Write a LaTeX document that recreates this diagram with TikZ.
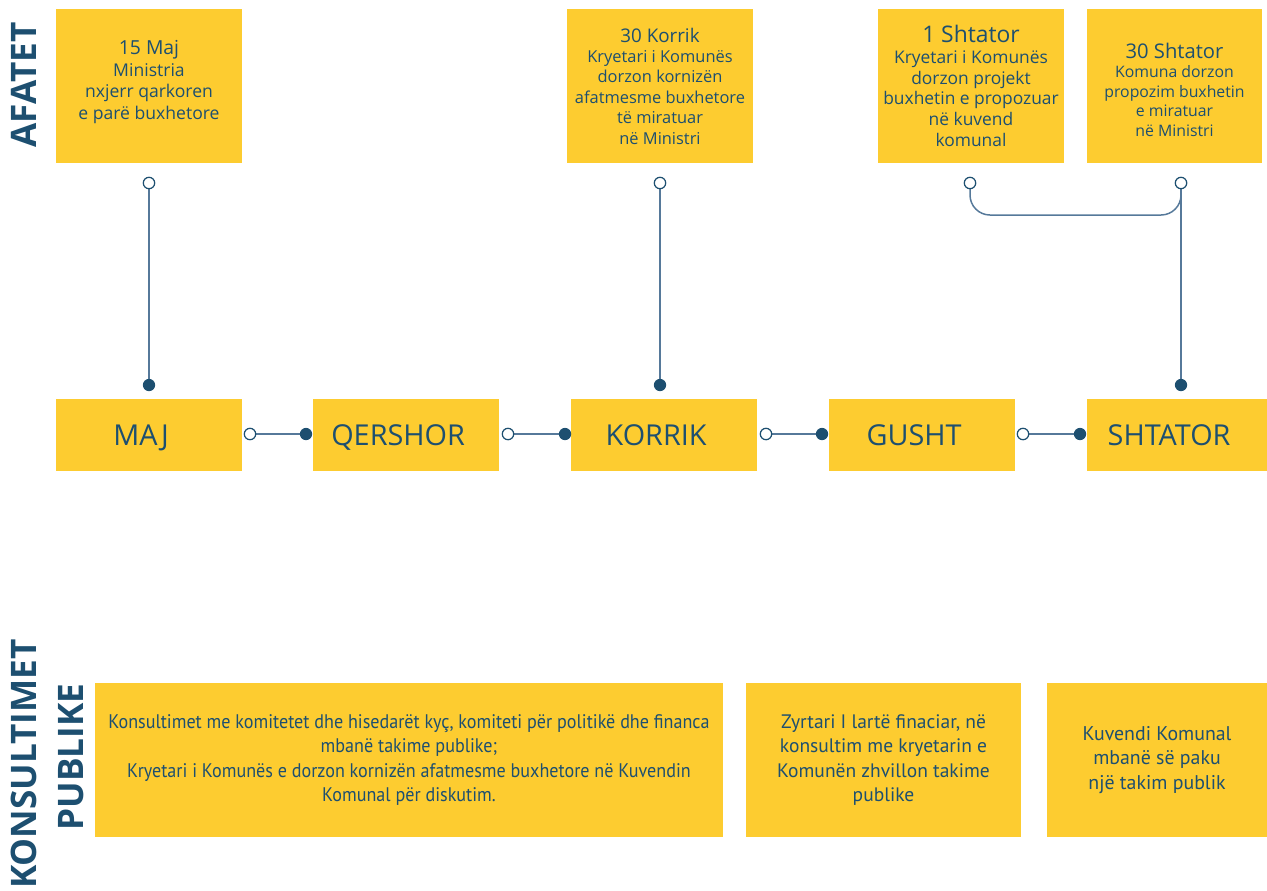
\documentclass[tikz,border=0pt]{standalone}
\usepackage{fontspec}
\setmainfont{Open Sans}
\newfontfamily\myriad{PT Sans}
\newfontfamily\myriadcond[FakeStretch=0.92]{PT Sans}
\definecolor{boxyellow}{HTML}{FDCC30}
\definecolor{inkblue}{HTML}{1D4F70}
\definecolor{linkblue}{HTML}{56799A}
\tikzset{
  box/.style={fill=boxyellow, text=inkblue, inner sep=0pt},
  monthbox/.style={box, minimum width=3.72cm, minimum height=1.44cm, text height=11.7pt, text depth=0pt,
    font=\fontsize{16.4}{20}\selectfont},
  datebox/.style={box, align=center, minimum height=3.08cm},
  publicbox/.style={box, align=center, minimum height=3.08cm},
  link/.style={draw=linkblue, line width=0.85pt},
  opendot/.style={circle, draw=inkblue, fill=white, line width=0.7pt, inner sep=0pt, minimum size=6.5pt},
  fulldot/.style={circle, fill=inkblue, inner sep=0pt, minimum size=7pt},
  sidelabel/.style={text=inkblue, rotate=90, font=\fontsize{20}{22}\selectfont\bfseries}
}
\begin{document}
\begin{tikzpicture}[x=0.02cm, y=-0.02cm]
\useasboundingbox (0,0) rectangle (1267,890);
{
% Side labels
\node [sidelabel] (afatet) at (24,85) {AFATET};
\node [sidelabel] (konsultimet) at (24,764) {KONSULTIMET};
\node [sidelabel] (publike) at (71,757) {PUBLIKE};

% Deadline boxes
\node [datebox, minimum width=3.72cm, font=\fontsize{10}{12.2}\selectfont] (d1) at (149,86)
  {{\fontsize{11}{13}\selectfont 15 Maj}\\ Ministria\\ nxjerr qarkoren\\ e parë buxhetore\rule[-7pt]{0pt}{7pt}};
\node [datebox, minimum width=3.72cm, font=\fontsize{9.35}{11.6}\selectfont] (d2) at (660,86)
  {{\fontsize{10.7}{13}\selectfont 30 Korrik}\\ Kryetari i Komunës\\ dorzon kornizën\\ afatmesme buxhetore\\ të miratuar\\ në Ministri};
\node [datebox, minimum width=3.72cm, font=\fontsize{9.9}{11.8}\selectfont] (d3) at (971,86)
  {{\fontsize{13}{15}\selectfont 1 Shtator}\\ Kryetari i Komunës\\ dorzon projekt\\ buxhetin e propozuar\\ në kuvend\\ komunal};
\node [datebox, minimum width=3.5cm, font=\fontsize{9}{11.1}\selectfont] (d4) at (1174.5,86)
  {{\fontsize{11.5}{14}\selectfont\rule{0pt}{13pt}30 Shtator}\\ Komuna dorzon\\ propozim buxhetin\\ e miratuar\\ në Ministri};

% Month boxes
\node [monthbox] (maj) at (149,435) {MAJ\kern9pt};
\node [monthbox] (qershor) at (406,435) {QERSHOR\kern9pt};
\node [monthbox] (korrik) at (664,435) {KORRIK\kern9pt};
\node [monthbox] (gusht) at (922,435) {GUSHT\kern9pt};
\node [monthbox, minimum width=3.6cm] (shtator) at (1177,435) {SHTATOR\kern9pt};

% Public consultation boxes
\node [publicbox, minimum width=12.56cm, font=\myriadcond\fontsize{11.2}{14}\selectfont] (pub1) at (409,760)
  {Konsultimet me komitetet dhe hisedarët kyç, komiteti për politikë dhe financa\\ mbanë takime publike;\\
   Kryetari i Komunës e dorzon kornizën afatmesme buxhetore në Kuvendin\\ Komunal për diskutim.};
\node [publicbox, minimum width=5.5cm, font=\myriad\fontsize{11.1}{14}\selectfont] (pub2) at (883.5,760)
  {Zyrtari I lartë finaciar, në\\ konsultim me kryetarin e\\ Komunën zhvillon takime\\ publike};
\node [publicbox, minimum width=4.4cm, font=\myriad\fontsize{11.3}{14}\selectfont] (pub3) at (1157,760)
  {Kuvendi Komunal\\ mbanë së paku\\ një takim publik};

% Connector ends
\coordinate (d1top) at (149,183);
\coordinate (d1bot) at (149,385);
\coordinate (d2top) at (660,183);
\coordinate (d2bot) at (660,385);
\coordinate (d3top) at (970,183);
\coordinate (d4top) at (1181,183);
\coordinate (d4bot) at (1181,385);
\coordinate (joinl) at (970,215);
\coordinate (joinr) at (1181,215);
\coordinate (m1r) at (250,434);
\coordinate (m2l) at (306,434);
\coordinate (m2r) at (508,434);
\coordinate (m3l) at (565,434);
\coordinate (m3r) at (766,434);
\coordinate (m4l) at (822,434);
\coordinate (m4r) at (1023,434);
\coordinate (m5l) at (1080,434);

% Drawing deadline links
\draw [link] (d1top) -- (d1bot);
\draw [link] (d2top) -- (d2bot);
\draw [link, rounded corners=0.4cm] (d3top) -- (joinl) -- (joinr) -- (d4top);
\draw [link] (d4top) -- (d4bot);

% Drawing month links
\draw [link] (m1r) -- (m2l);
\draw [link] (m2r) -- (m3l);
\draw [link] (m3r) -- (m4l);
\draw [link] (m4r) -- (m5l);

% Marking the ends
\foreach \p in {d1top,d2top,d3top,d4top,m1r,m2r,m3r,m4r}
  \node [opendot] at (\p) {};
\foreach \p in {d1bot,d2bot,d4bot,m2l,m3l,m4l,m5l}
  \node [fulldot] at (\p) {};
}
\end{tikzpicture}
\end{document}
